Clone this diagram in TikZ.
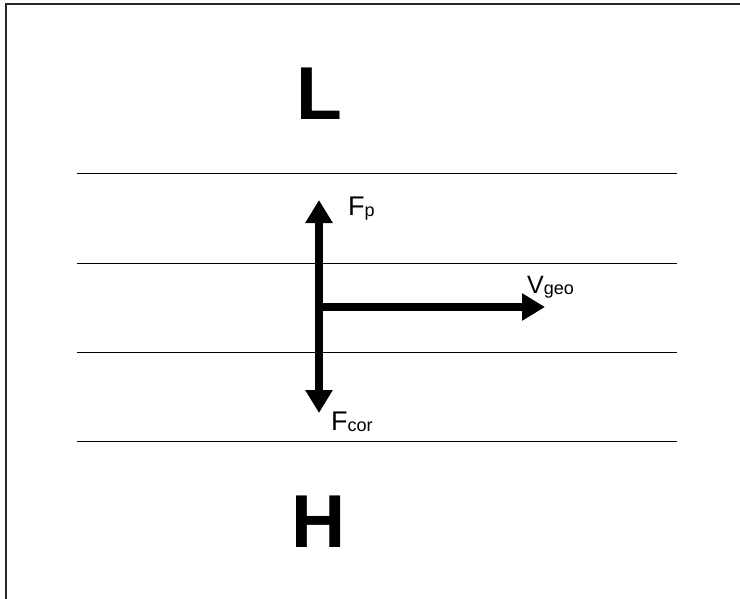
\documentclass[tikz,border=0pt]{standalone}
\usepackage{fontspec}
\setmainfont{Liberation Sans}
\usetikzlibrary{arrows.meta}
\tikzset{
  band/.style={line width=1pt, black},
  force/.style={line width=8pt, black, -{Triangle[length=23pt,width=26pt]}},
  big/.style={inner sep=0pt, anchor=base west, font=\fontsize{75}{80}\selectfont\bfseries},
  lab/.style={inner sep=0pt, anchor=base west, font=\fontsize{27}{32}\selectfont},
}
\newcommand{\sbs}[1]{\raisebox{-1.5pt}{\fontsize{18}{20}\selectfont #1}}
\begin{document}
\begin{tikzpicture}[x=1pt,y=-1pt]
\useasboundingbox (0,0) rectangle (740,598);
% frame (cut off at right and bottom)
\draw[line width=2pt, black!85] (6,600) -- (6,4) -- (742,4);
% isobars
\coordinate (a1) at (77,173); \coordinate (b1) at (677,173);
\coordinate (a2) at (77,263); \coordinate (b2) at (677,263);
\coordinate (a3) at (77,352); \coordinate (b3) at (677,352);
\coordinate (a4) at (77,441); \coordinate (b4) at (677,441);
\draw[band] (a1) -- (b1);
\draw[band] (a2) -- (b2);
\draw[band] (a3) -- (b3);
\draw[band] (a4) -- (b4);
% arrows
\coordinate (c) at (319,307);
\coordinate (up) at (319,200);
\coordinate (dn) at (319,413);
\coordinate (rt) at (545,307);
\draw[force] (c) -- (up);
\draw[force] (c) -- (dn);
\draw[force, shorten <=-4pt] (c) -- (rt);
% labels
\node[big] (L) at (296,119) {L};
\node[big] (H) at (291.5,547) {H};
\node[lab] (Fp) at (348,215) {F\sbs{p}};
\node[lab] (Fcor) at (331,430) {F\sbs{cor}};
\node[lab, font=\fontsize{25}{30}\selectfont] (Vgeo) at (527,293) {V\sbs{geo}};
\end{tikzpicture}
\end{document}
